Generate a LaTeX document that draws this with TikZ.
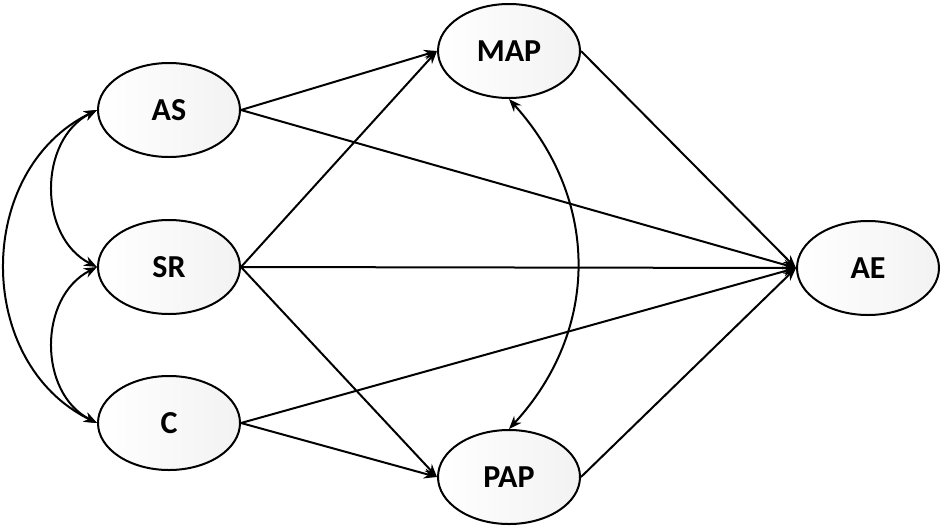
\documentclass[tikz,border=0pt]{standalone}
\usepackage{fontspec}
\setmainfont{Carlito}
\usetikzlibrary{shapes.geometric,arrows.meta}
\begin{document}
\begin{tikzpicture}[x=1pt,y=-1pt,
  var/.style={ellipse,draw,line width=2pt,minimum width=142pt,minimum height=94pt,inner sep=0pt,
    left color=white,right color=black!5,font=\bfseries\fontsize{32}{34}\selectfont},
  arr/.style={-{Stealth[length=13pt,width=10pt]},line width=2pt},
  dbl/.style={{Stealth[length=13pt,width=10pt]}-{Stealth[length=13pt,width=10pt]},line width=2pt}]
\useasboundingbox (0,0) rectangle (945,531);
\node[var] (as) at (169,110) {AS};
\node[var] (sr) at (169,267) {SR};
\node[var] (c) at (169,423) {C};
\node[var] (map) at (509,51) {MAP};
\node[var] (pap) at (509,477) {PAP};
\node[var] (ae) at (868,268) {AE};
\draw[arr] (as.east) -- (map.west);
\draw[arr] (as.east) -- (ae.west);
\draw[arr] (sr.east) -- (map.west);
\draw[arr] (sr.east) -- (ae.west);
\draw[arr] (sr.east) -- (pap.west);
\draw[arr] (c.east) -- (ae.west);
\draw[arr] (c.east) -- (pap.west);
\draw[arr] (map.east) -- (ae.west);
\draw[arr] (pap.east) -- (ae.west);
\draw[dbl] (map.south) .. controls (600,200) and (600,330) .. (pap.north);
\draw[dbl] (as.west) .. controls (38,140) and (38,237) .. (sr.west);
\draw[dbl] (sr.west) .. controls (38,297) and (38,393) .. (c.west);
\draw[dbl] (as.west) .. controls (-26,170) and (-26,363) .. (c.west);
\end{tikzpicture}
\end{document}
